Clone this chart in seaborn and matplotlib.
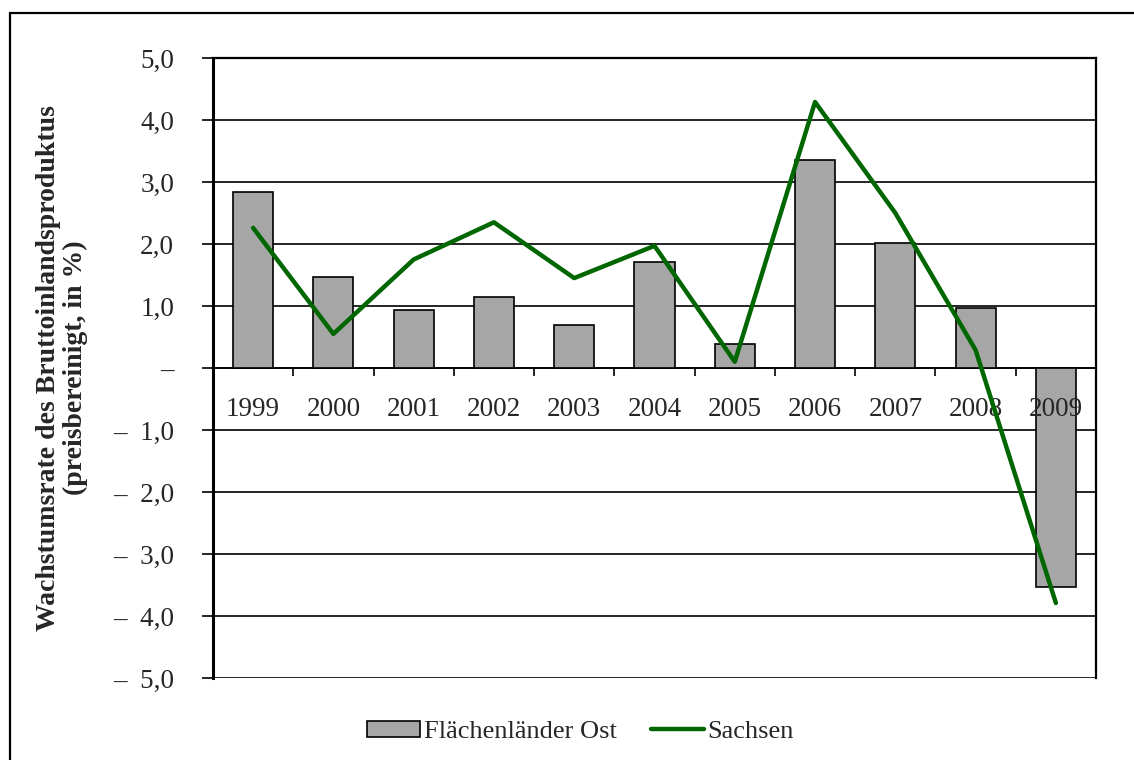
import matplotlib
matplotlib.use("Agg")
import matplotlib.pyplot as plt
from matplotlib.lines import Line2D
from matplotlib.patches import Patch
from matplotlib.ticker import FuncFormatter, FixedLocator
import numpy as np
import pandas as pd
import seaborn as sns

years = ["1999", "2000", "2001", "2002", "2003", "2004", "2005", "2006", "2007", "2008", "2009"]
ost = [2.84, 1.47, 0.94, 1.15, 0.69, 1.71, 0.39, 3.35, 2.02, 0.97, -3.53]
sachsen = [2.26, 0.55, 1.75, 2.35, 1.45, 1.97, 0.10, 4.29, 2.50, 0.29, -3.79]

bar_color = "#A6A6A6"
line_color = "#006600"

sns.set_style("white")
plt.rcParams["font.family"] = ["Liberation Serif", "DejaVu Serif"]
plt.rcParams["font.size"] = 19.5

df = pd.DataFrame({"Jahr": years, "Ost": ost, "Sachsen": sachsen})
df["pos"] = np.arange(len(df))

fig = plt.figure(figsize=(11.34, 7.6), dpi=100)
ax = fig.add_axes([0.1878, 0.1079, 0.7787, 0.8158])

sns.barplot(data=df, x="Jahr", y="Ost", color=bar_color, edgecolor="black",
            linewidth=1.2, width=0.5, saturation=1, ax=ax, zorder=3)
sns.lineplot(data=df, x="pos", y="Sachsen", color=line_color, linewidth=3.2,
             ax=ax, zorder=4)

ax.set_ylim(-5, 5)
ax.set_xlim(-0.5, len(years) - 0.5)
ax.set_yticks(np.arange(-5, 6, 1))


def fmt(v, _):
    if abs(v) < 1e-9:
        return "\u2013"
    if v < 0:
        return "\u2013  " + f"{abs(v):.1f}".replace(".", ",")
    return f"{v:.1f}".replace(".", ",")


ax.yaxis.set_major_formatter(FuncFormatter(fmt))
ax.yaxis.grid(True, color="black", linewidth=1.2)
ax.set_axisbelow(True)
# year labels sit above the bars, the green line above them
ax.xaxis.set_zorder(3.5)
ax.tick_params(axis="y", direction="out", length=8, width=1.2, pad=20,
               left=True, color="black", labelsize=19.5)

# x axis sits on the zero line
ax.spines["bottom"].set_position(("data", 0))
ax.spines["bottom"].set_linewidth(1.2)
ax.spines["left"].set_linewidth(2.2)
ax.spines["top"].set_linewidth(1.6)
ax.spines["right"].set_linewidth(1.6)
for s in ax.spines.values():
    s.set_color("black")

ax.xaxis.set_major_locator(FixedLocator(np.arange(len(years) + 1) - 0.5))
ax.xaxis.set_minor_locator(FixedLocator(np.arange(len(years))))
ax.xaxis.set_major_formatter(FuncFormatter(lambda v, _: ""))
ax.xaxis.set_minor_formatter(FuncFormatter(lambda v, _: years[int(round(v))]))
ax.tick_params(axis="x", which="major", direction="out", length=6, width=1.2,
               bottom=True, color="black")
ax.tick_params(axis="x", which="minor", length=0, pad=21, bottom=True, labelsize=19.5)
ax.set_xlabel("")

ax.set_ylabel("Wachstumsrate des Bruttoinlandsproduktus\n(preisbereinigt, in %)",
              fontweight="bold", fontsize=20, linespacing=1.1)
ax.yaxis.set_label_coords(-0.141, 0.5)

handles = [Patch(facecolor=bar_color, edgecolor="black", linewidth=1.2),
           Line2D([0], [0], color=line_color, linewidth=3.2)]
fig.legend(handles, ["Flächenländer Ost", "Sachsen"], loc="center",
           bbox_to_anchor=(0.512, 0.037), ncol=2, frameon=False, fontsize=19,
           handlelength=2.0, handleheight=0.55, handletextpad=0.15,
           columnspacing=1.3)

# outer frame (top and left visible)
fig.add_artist(Line2D([10 / 1134, 1.0], [1 - 13 / 760, 1 - 13 / 760],
                      transform=fig.transFigure, color="black", linewidth=1.6))
fig.add_artist(Line2D([10 / 1134, 10 / 1134], [0.0, 1 - 13 / 760],
                      transform=fig.transFigure, color="black", linewidth=1.6))

fig.savefig("out.png", dpi=100, facecolor="white")
